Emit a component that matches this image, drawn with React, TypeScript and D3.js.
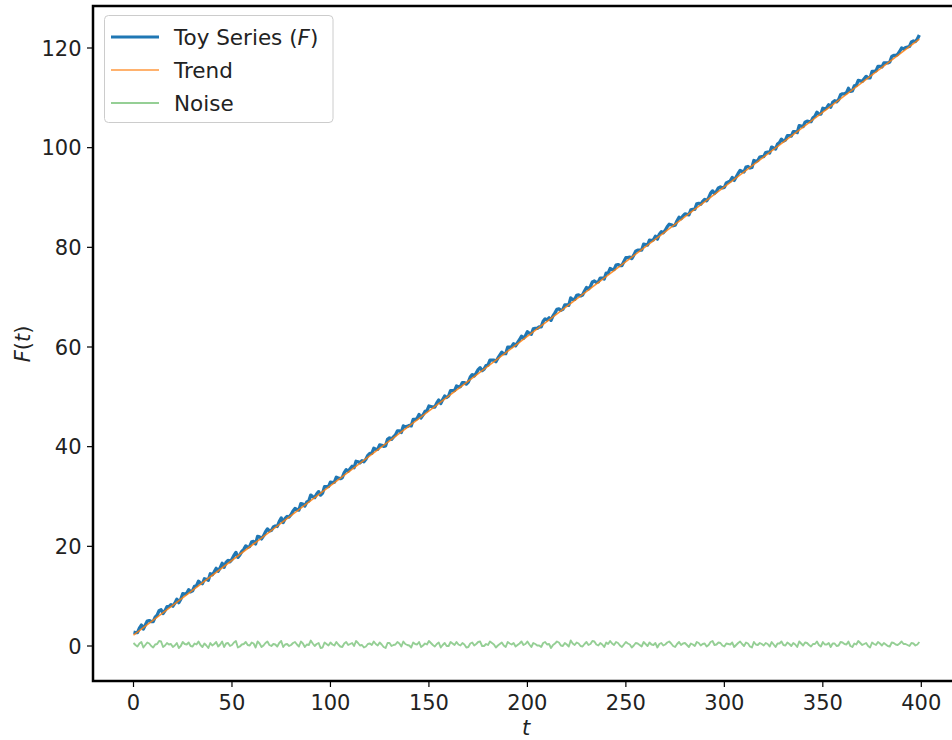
import React from "react";
import * as d3 from "d3";

// ---- data ----
const trendT: number[] = [0, 399];
const trendV: number[] = [2.2, 121.8];

// noise at even t (t = 0, 2, ..., 398)
const noiseEven: number[] = [
  0.6, -0.1, 0.8, 0.2, 0.5, -0.3, 0.4, 0.9, 0.1, 0.3, -0.2, 0.6, 0.0, 0.4, 0.7, -0.1, 0.3, 0.2, 0.5, -0.4,
  0.1, 0.8, 0.3, -0.2, 0.6, 0.2, 1.0, -0.1, 0.4, 0.2, 0.7, -0.3, 0.5, 0.1, 0.9, 0.0, 0.3, 0.6, -0.2, 0.4,
  0.2, 0.8, -0.1, 0.5, 0.3, 1.1, 0.0, 0.6, -0.3, 0.4, 0.7, 0.1, 0.3, -0.2, 0.8, 0.4, 0.0, 0.6, 0.2, -0.1,
  0.5, 0.9, 0.1, 0.3, -0.4, 0.6, 0.2, 0.8, -0.1, 0.4, 0.1, 0.7, 0.3, -0.2, 0.5, 1.0, 0.2, 0.4, -0.3, 0.6,
  0.0, 0.5, 0.8, 0.1, 0.3, -0.2, 0.7, 0.4, 0.9, 0.0, 0.2, 0.6, -0.3, 0.4, 0.1, 0.8, 0.3, -0.1, 0.5, 0.2,
  0.9, -0.2, 0.4, 0.1, 0.6, 0.3, -0.4, 0.5, 0.7, 0.0, 0.3, 1.1, 0.2, 0.5, -0.1, 0.8, 0.4, 0.9, 0.1, 0.3,
  0.7, 1.0, 0.2, 0.6, -0.2, 0.8, 0.3, 0.1, 0.5, -0.1, 0.4, 0.7, 0.2, -0.3, 0.6, 0.3, 0.9, 0.0, 0.4, 0.2,
  0.6, -0.2, 0.3, 0.8, 0.1, 0.5, 0.2, 1.0, 0.3, 0.6, -0.1, 0.4, 0.7, 0.2, 0.9, 0.0, 0.5, -0.3, 0.3, 0.6,
  0.1, 0.4, 0.8, -0.2, 0.5, 0.2, 0.7, 0.0, 0.3, 0.9, 0.1, 0.6, -0.1, 0.4, 0.2, 0.8, 0.3, -0.2, 0.5, 0.1,
  0.7, 0.3, 0.0, 0.5, 1.0, 0.2, 0.6, -0.3, 0.4, 0.8, 0.1, 0.3, -0.1, 0.6, 0.2, 0.9, 0.4, 0.0, 0.5, 0.3,
];

// noise at odd t (t = 1, 3, ..., 399)
const noiseOdd: number[] = [
  0.2, 0.5, -0.3, 0.7, 0.0, 0.3, 1.0, -0.2, 0.6, 0.4, 0.1, -0.4, 0.8, 0.3, 0.0, 0.5, 0.9, -0.2, 0.1, 0.6,
  0.4, -0.1, 0.9, 0.5, 0.0, 0.7, -0.3, 0.3, 0.8, 0.1, 0.5, 0.9, -0.2, 0.6, 0.2, 0.4, -0.1, 1.0, 0.3, 0.0,
  0.6, 0.3, 0.9, -0.2, 0.2, 0.5, 0.4, -0.4, 0.7, 0.1, 0.3, 0.8, -0.1, 0.5, 0.2, 0.6, 1.0, 0.1, -0.3, 0.4,
  0.2, 0.4, 0.7, -0.2, 0.6, 0.0, 0.3, 0.5, 0.9, 0.2, -0.3, 0.4, 0.8, 0.1, 0.3, 0.6, -0.1, 0.7, 0.2, 0.0,
  0.8, 0.2, 0.3, 0.6, -0.3, 0.5, 0.1, 0.8, 0.0, 0.4, 0.9, 0.3, 0.1, 0.7, -0.2, 0.5, 0.6, 0.2, 0.9, 0.4,
  0.3, 0.6, 0.1, -0.2, 0.8, 0.4, 0.2, 0.9, 0.1, 0.6, -0.1, 0.5, 0.7, 0.0, 0.4, 0.2, 1.0, 0.3, 0.6, -0.2,
  0.4, 0.5, 0.8, 0.1, 0.3, 0.5, -0.3, 0.6, 0.2, 0.8, 0.0, 0.3, 0.6, 0.4, 0.1, 0.7, 0.5, -0.2, 0.8, 0.5,
  0.2, 0.5, 0.0, 0.6, 0.4, -0.1, 0.8, 0.2, 0.7, 0.1, 0.5, 0.3, -0.2, 0.6, 0.4, 0.7, -0.1, 0.8, 0.2, 0.4,
  0.6, -0.1, 0.3, 0.5, 0.9, 0.1, 0.4, 0.6, -0.2, 0.5, 0.7, 0.2, 0.4, 0.9, -0.1, 0.3, 0.6, 0.5, 0.0, 0.8,
  0.4, 0.9, -0.2, 0.3, 0.6, 0.4, 0.0, 0.7, 0.2, 0.5, 0.6, 0.0, 0.7, 0.3, 0.5, 0.4, 0.2, 0.6, 0.1, 0.8,
];

const xTicks: number[] = [0, 50, 100, 150, 200, 250, 300, 350, 400];
const yTicks: number[] = [0, 20, 40, 60, 80, 100, 120];
const legendLabels: string[] = ["Toy Series", "Trend", "Noise"];

const W = 952;
const H = 740;
const axL = 93, axT = 6, axR = 960, axB = 681;
const FONT = "DejaVu Sans, sans-serif";
const FS = 21;
const LFS = 21.5;

export default function App() {
  const x = d3.scaleLinear().domain([0, 400]).range([133.5, 921.3]);
  const y = d3.scaleLinear().domain([0, 120]).range([646, 48]);
  const trendScale = d3.scaleLinear().domain(trendT).range(trendV);

  const noisePts: [number, number][] = [];
  noiseEven.forEach((v, i) => {
    noisePts.push([2 * i, v]);
    noisePts.push([2 * i + 1, noiseOdd[i]]);
  });
  const toyPts: [number, number][] = noisePts.map(([t, v]) => [t, trendScale(t) + v]);
  const trendPts: [number, number][] = trendT.map((t, i) => [t, trendV[i]]);

  const line = d3
    .line<[number, number]>()
    .x((d) => x(d[0]))
    .y((d) => y(d[1]));

  const legendColors = ["#1f77b4", "#ff7f0e", "#2ca02c"];
  const legendWidths = [3, 1.6, 1.8];
  const legendOpac = [1, 0.8, 0.5];

  return (
    <svg width={W} height={H} style={{ position: "absolute", left: 0, top: 0 }} fontFamily={FONT}>
      <rect x={0} y={0} width={W} height={H} fill="#fff" />
      <defs>
        <clipPath id="plotclip">
          <rect x={axL} y={axT} width={axR - axL} height={axB - axT} />
        </clipPath>
      </defs>
      <g clipPath="url(#plotclip)">
        <path d={line(toyPts) || ""} fill="none" stroke="#1f77b4" strokeWidth={3.3} strokeLinejoin="round" />
        <path d={line(trendPts) || ""} fill="none" stroke="#ff7f0e" strokeOpacity={0.85} strokeWidth={1.6} />
        <path d={line(noisePts) || ""} fill="none" stroke="#2ca02c" strokeOpacity={0.5} strokeWidth={1.9} strokeLinejoin="round" />
      </g>
      {/* spines */}
      <rect x={axL} y={axT} width={axR - axL} height={axB - axT} fill="none" stroke="#000" strokeWidth={2.5} />
      {/* x ticks */}
      {xTicks.map((t) => (
        <g key={"x" + t}>
          <line x1={x(t)} x2={x(t)} y1={axB} y2={axB + 6} stroke="#000" strokeWidth={1.2} />
          <text x={x(t)} y={710} textAnchor="middle" fontSize={FS} fill="#222">
            {t}
          </text>
        </g>
      ))}
      {/* y ticks */}
      {yTicks.map((v) => (
        <g key={"y" + v}>
          <line x1={axL - 6} x2={axL} y1={y(v)} y2={y(v)} stroke="#000" strokeWidth={1.2} />
          <text x={81.5} y={y(v) + 7.6} textAnchor="end" fontSize={FS} fill="#222">
            {v}
          </text>
        </g>
      ))}
      {/* axis labels */}
      <text x={526} y={735} textAnchor="middle" fontSize={FS} fontStyle="italic" fill="#222">
        t
      </text>
      <text transform="translate(30,344) rotate(-90)" textAnchor="middle" fontSize={FS} fill="#222">
        <tspan fontStyle="italic">F</tspan>
        <tspan>(</tspan>
        <tspan fontStyle="italic">t</tspan>
        <tspan>)</tspan>
      </text>
      {/* legend */}
      <rect x={104.5} y={15.5} width={228.5} height={107} rx={4} fill="#fff" fillOpacity={0.8} stroke="#cccccc" strokeWidth={1} />
      {legendLabels.map((lab, i) => {
        const cy = 37 + i * 33;
        return (
          <g key={lab}>
            <line x1={111} x2={159} y1={cy} y2={cy} stroke={legendColors[i]} strokeWidth={legendWidths[i]} strokeOpacity={legendOpac[i]} />
            <text x={174} y={cy + 7.6} fontSize={LFS} fill="#222">
              {lab}
              {i === 0 ? (
                <>
                  <tspan> (</tspan>
                  <tspan fontStyle="italic">F</tspan>
                  <tspan>)</tspan>
                </>
              ) : null}
            </text>
          </g>
        );
      })}
    </svg>
  );
}
